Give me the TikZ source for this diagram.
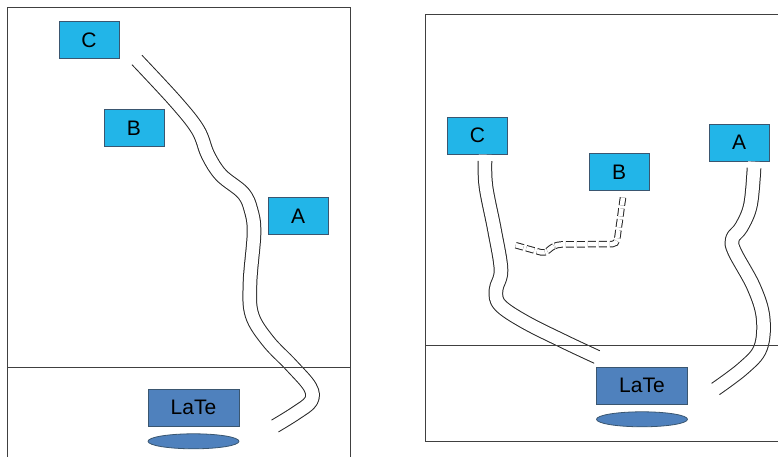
\documentclass[tikz,border=0pt]{standalone}
\usepackage{fontspec}
\setmainfont{Liberation Sans}
\usetikzlibrary{positioning, shapes.geometric}
\definecolor{boxblue}{HTML}{22B5E8}
\definecolor{srcblue}{HTML}{4F81BD}
\definecolor{edgeblue}{HTML}{3A5670}
\definecolor{framegray}{HTML}{404040}

\begin{document}
\begin{tikzpicture}[x=1pt, y=-1pt,
        base/.style={draw=edgeblue, line width=0.8pt, minimum width=60pt, minimum height=37pt, inner sep=0pt, font=\fontsize{21}{24}\selectfont},
        box/.style={base, fill=boxblue},
        src/.style={base, fill=srcblue, minimum width=91pt},
        pad/.style={ellipse, draw=edgeblue, line width=0.8pt, fill=srcblue, minimum width=91pt, minimum height=15pt, inner sep=0pt},
        cable/.style={draw=black!85, line width=14.6pt, line join=round, postaction={draw=white, line width=12.6pt, line cap=rect}},
        wire/.style={draw=black!85, line width=1pt, double=white, double distance=4.5pt, dash pattern=on 8pt off 3pt, rounded corners=4pt},
        frm/.style={draw=framegray, line width=0.9pt}
    ]
    \useasboundingbox (0,0) rectangle (778,457);
    % Panel izquierdo
    \node[box] (lC) at (89,40) {C};
    \node[box] (lB) at (134,128) {B};
    \node[box] (lA) at (298,216) {A};
    \node[src] (lsrc) at (193.5,407.5) {LaTe};
    \node[pad, below=7pt of lsrc] (lpad) {};
    \coordinate (lc0) at (137,60);
    \coordinate (lc1) at (275,426);
    \draw[cable] plot[smooth, tension=0.6] coordinates {(lc0) (176,102) (198,130) (208,155) (221,175) (243,193) (251,210) (254,233) (250,283) (252,315) (268,341) (291,365) (310,387) (311,401) (296,413) (lc1)};
    \draw[frm] (7,457) -- (7,7) -- (350,7) -- (350,457);
    \draw[frm] (7,367) -- (350,367);
    % Panel derecho
    \node[box] (rC) at (477.5,135.5) {C};
    \node[box] (rB) at (619,172) {B};
    \node[box] (rA) at (739,142.5) {A};
    \node[src] (rsrc) at (642,385.5) {LaTe};
    \node[pad, below=7pt of rsrc] (rpad) {};
    \coordinate (rc0) at (485,161);
    \coordinate (rc1) at (597,357);
    \coordinate (ra0) at (754,168);
    \coordinate (ra1) at (715.5,389);
    \coordinate (rb0) at (623,197.5);
    \coordinate (rb1) at (515,245);
    \draw[cable] plot[smooth, tension=0.6] coordinates {(rc0) (486,187) (494.5,230) (501,270) (496,290) (500,305) (525,322) (565,342) (rc1)};
    \draw[cable] plot[smooth, tension=0.6] coordinates {(ra0) (750.5,205) (741.5,227) (732.5,238.5) (734.5,251.5) (753.5,286.5) (763,317) (760.5,348) (743.5,368) (ra1)};
    \draw[wire] (rb0) -- (616.5,244) -- (557.5,244.5) -- (551,247.5) -- (545,253.5) -- (rb1);
    \draw[frm] (778,14) -- (425,14) -- (425,441) -- (778,441);
    \draw[frm] (425,345) -- (778,345);
\end{tikzpicture}
\end{document}
